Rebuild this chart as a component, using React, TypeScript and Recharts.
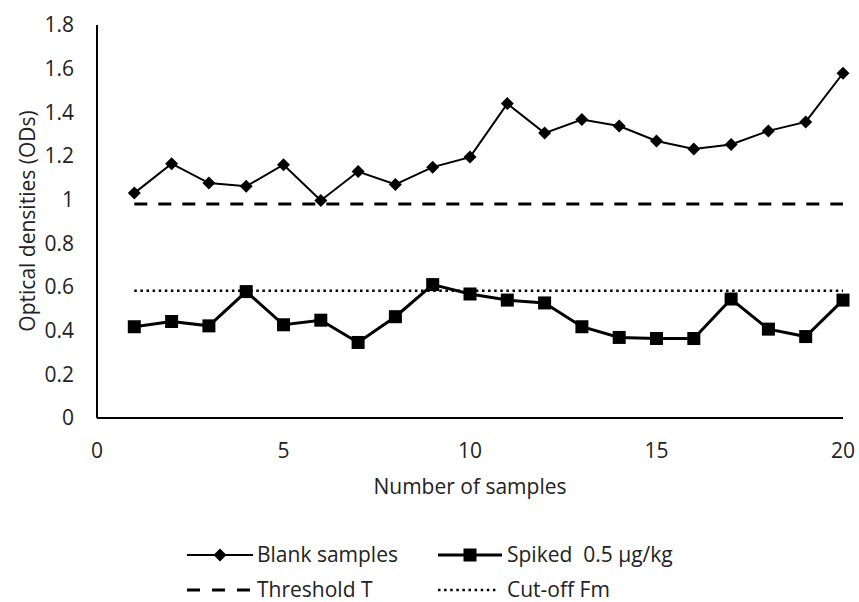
import { LineChart, Line, XAxis, YAxis } from 'recharts'

const samples = [1, 2, 3, 4, 5, 6, 7, 8, 9, 10, 11, 12, 13, 14, 15, 16, 17, 18, 19, 20]
const blank = [1.03, 1.165, 1.076, 1.061, 1.16, 0.996, 1.129, 1.07, 1.149, 1.195, 1.44, 1.305, 1.367, 1.337, 1.269, 1.232, 1.253, 1.315, 1.356, 1.579]
const spiked = [0.418, 0.442, 0.422, 0.579, 0.427, 0.448, 0.346, 0.464, 0.611, 0.568, 0.54, 0.527, 0.418, 0.369, 0.364, 0.364, 0.545, 0.407, 0.373, 0.54]
const threshold = 0.98
const cutoff = 0.583
const xTicks = [0, 5, 10, 15, 20]
const yTicks = [0, 0.2, 0.4, 0.6, 0.8, 1, 1.2, 1.4, 1.6, 1.8]

const data = samples.map((s, i) => ({ sample: s, blank: blank[i], spiked: spiked[i], threshold, cutoff }))

const FONT = '"Open Sans", Lato, sans-serif'
const FS = 21
const W = 859
const H = 602

function Diamond({ cx, cy }: any) {
  if (cx == null || cy == null) return null
  const r = 6.5
  return <path d={`M${cx},${cy - r}L${cx + r},${cy}L${cx},${cy + r}L${cx - r},${cy}Z`} fill="#000" />
}

function Square({ cx, cy }: any) {
  if (cx == null || cy == null) return null
  const s = 13
  return <rect x={cx - s / 2} y={cy - s / 2} width={s} height={s} fill="#000" />
}

// legend drawn by hand, Excel style, two rows under the axis title
function LegendBox() {
  const t = { fontFamily: FONT, fontSize: FS, fill: '#222', whiteSpace: 'pre' as const }
  const r1 = 555
  const r2 = 590
  return (
    <svg width={W} height={H} style={{ position: 'absolute', left: 0, top: 0, pointerEvents: 'none' }}>
      <line x1={187} y1={r1} x2={253} y2={r1} stroke="#000" strokeWidth={2} />
      <Diamond cx={220} cy={r1} />
      <text x={257} y={r1} dy="0.35em" style={t}>Blank samples</text>
      <line x1={438} y1={r1} x2={502} y2={r1} stroke="#000" strokeWidth={3} />
      <Square cx={470} cy={r1} />
      <text x={507} y={r1} dy="0.35em" style={t}>Spiked  0.5 µg/kg</text>
      <line x1={187} y1={r2} x2={250} y2={r2} stroke="#000" strokeWidth={3} strokeDasharray="13 12" />
      <text x={257} y={r2} dy="0.35em" style={t}>Threshold T</text>
      <line x1={438} y1={r2} x2={497} y2={r2} stroke="#000" strokeWidth={2.5} strokeDasharray="2.5 3.6" />
      <text x={507} y={r2} dy="0.35em" style={t}>Cut-off Fm</text>
    </svg>
  )
}

export default function App() {
  const tick = { fontFamily: FONT, fontSize: FS, fill: '#222' }
  return (
    <div style={{ position: 'relative', width: W, height: H, overflow: 'hidden' }}>
      <style>{'body{margin:0}'}</style>
      <LineChart width={W} height={H} data={data} margin={{ top: 25, right: 16, left: 0, bottom: 154 }}>
        <XAxis
          type="number"
          dataKey="sample"
          domain={[0, 20]}
          ticks={xTicks}
          tickLine={false}
          tickSize={0}
          tickMargin={25}
          height={30}
          axisLine={{ stroke: '#000', strokeWidth: 2 }}
          tick={tick}
          label={{
            content: () => (
              <text x={470} y={487} textAnchor="middle" dy="0.35em" style={tick}>Number of samples</text>
            ),
          }}
        />
        <YAxis
          type="number"
          domain={[0, 1.8]}
          ticks={yTicks}
          tickLine={false}
          tickSize={0}
          tickMargin={23}
          width={97}
          axisLine={{ stroke: '#000', strokeWidth: 2 }}
          tick={tick}
          label={{
            content: () => (
              <text x={28} y={221} transform="rotate(-90 28 221)" textAnchor="middle" dy="0.35em" style={tick}>
                Optical densities (ODs)
              </text>
            ),
          }}
        />
        <Line dataKey="threshold" stroke="#000" strokeWidth={3} strokeDasharray="13 11" dot={false} isAnimationActive={false} />
        <Line dataKey="cutoff" stroke="#000" strokeWidth={2.5} strokeDasharray="2.5 3.6" dot={false} isAnimationActive={false} />
        <Line dataKey="blank" stroke="#000" strokeWidth={2} dot={<Diamond />} isAnimationActive={false} />
        <Line dataKey="spiked" stroke="#000" strokeWidth={3} dot={<Square />} isAnimationActive={false} />
      </LineChart>
      <LegendBox />
    </div>
  )
}
